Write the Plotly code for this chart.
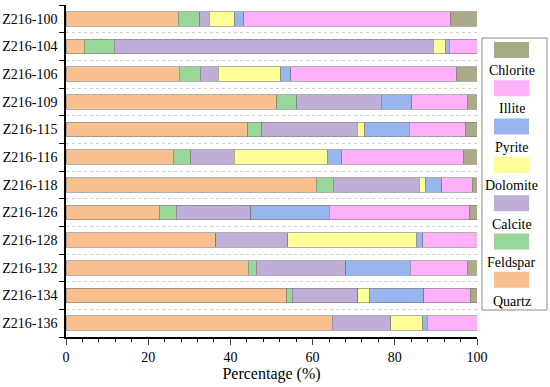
import plotly.graph_objects as go

samples = ["Z216-100", "Z216-104", "Z216-106", "Z216-109", "Z216-115", "Z216-116",
           "Z216-118", "Z216-126", "Z216-128", "Z216-132", "Z216-134", "Z216-136"]

minerals = ["Quartz", "Feldspar", "Calcite", "Dolomite", "Pyrite", "Illite", "Chlorite"]
colors = ["#F9C08F", "#98D69A", "#BFAED8", "#FFFF99", "#98B6EE", "#FFB0F8", "#AAAA88"]

quartz   = [27.3, 4.4, 27.6, 51.3, 44.2, 26.1, 60.9, 22.7, 36.4, 44.4, 53.7, 64.8]
feldspar = [5.2, 7.3, 5.1, 4.8, 3.4, 4.3, 4.1, 4.1, 0.0, 1.9, 1.3, 0.0]
calcite  = [2.3, 77.7, 4.3, 20.6, 23.3, 10.5, 20.9, 18.2, 17.6, 21.8, 16.0, 14.2]
dolomite = [6.3, 3.0, 15.3, 0.0, 1.8, 22.7, 1.5, 0.0, 31.2, 0.0, 2.8, 7.8]
pyrite   = [2.2, 0.9, 2.4, 7.4, 10.8, 3.5, 4.0, 19.1, 1.6, 15.7, 13.2, 1.1]
illite   = [50.3, 6.7, 40.4, 13.5, 13.7, 29.6, 7.5, 34.1, 13.2, 13.8, 11.4, 12.1]
chlorite = [6.4, 0.0, 4.9, 2.4, 2.8, 3.3, 1.1, 1.8, 0.0, 2.4, 1.6, 0.0]

series = [quartz, feldspar, calcite, dolomite, pyrite, illite, chlorite]

x_ticks = [0, 20, 40, 60, 80, 100]

ypos = list(range(len(samples)))
fig = go.Figure()
for name, col, vals in zip(minerals, colors, series):
    fig.add_trace(go.Bar(
        y=ypos, x=vals, name=name, orientation="h",
        marker=dict(color=col, line=dict(color="#7a7a7a", width=0.6)),
        width=0.52, showlegend=False,
    ))

FONT = "Liberation Serif, Times New Roman, serif"
W, H = 550, 387
L, R, T, B = 66, 73, 5, 50

fig.update_layout(
    barmode="stack",
    width=W, height=H,
    margin=dict(l=L, r=R, t=T, b=B, autoexpand=False),
    plot_bgcolor="white", paper_bgcolor="white",
    font=dict(family=FONT, size=14, color="black"),
    xaxis=dict(
        range=[0, 100], tickvals=x_ticks, ticks="outside", ticklen=6, tickwidth=1.2,
        showline=True, linecolor="black", linewidth=1.5, showgrid=False, zeroline=False,
        minor=dict(dtick=4, ticks="outside", ticklen=3, tickwidth=1, tickcolor="black"),
        title=dict(text="Percentage (%)", font=dict(size=16, family=FONT), standoff=4),
        tickfont=dict(size=14, family=FONT),
        automargin=False,
    ),
    yaxis=dict(
        range=[len(samples) - 0.5, -0.5], tickvals=ypos, ticktext=samples, ticks="",
        showline=True, linecolor="black", linewidth=1.5, showgrid=False, zeroline=False,
        minor=dict(tickvals=[i - 0.5 for i in range(len(samples) + 1)], ticks="outside",
                   ticklen=5, tickwidth=1.2, tickcolor="black",
                   showgrid=True, gridcolor="#cfcfcf", griddash="dot", gridwidth=1),
        tickfont=dict(size=14, family=FONT),
        ticklabelstandoff=4,
        automargin=False,
    ),
)

# custom legend (page-pixel positions converted to plot-area paper coords)
pw, ph = W - L - R, H - T - B
def fx(x):
    return (x - L) / pw
def fy(y):
    return (H - B - y) / ph

shapes = [dict(type="rect", xref="paper", yref="paper",
               x0=fx(482), x1=fx(547), y0=fy(310), y1=fy(38),
               line=dict(color="#8a8a8a", width=1), fillcolor="rgba(0,0,0,0)")]
annotations = []
order = list(reversed(range(len(minerals))))
for k, idx in enumerate(order):
    sy = 50 + k * 38.3
    ty = 70 + k * 38.5
    shapes.append(dict(type="rect", xref="paper", yref="paper",
                       x0=fx(494), x1=fx(529), y0=fy(sy + 8), y1=fy(sy - 8),
                       line=dict(width=0), fillcolor=colors[idx]))
    annotations.append(dict(xref="paper", yref="paper", x=fx(511.5), y=fy(ty),
                            text=minerals[idx], showarrow=False,
                            xanchor="center", yanchor="middle",
                            font=dict(size=14, family=FONT, color="black")))

fig.update_layout(shapes=shapes, annotations=annotations)
fig.write_html("out.html", config={"displayModeBar": False},
               post_script="document.body.style.margin='0';document.body.style.overflow='hidden';")
